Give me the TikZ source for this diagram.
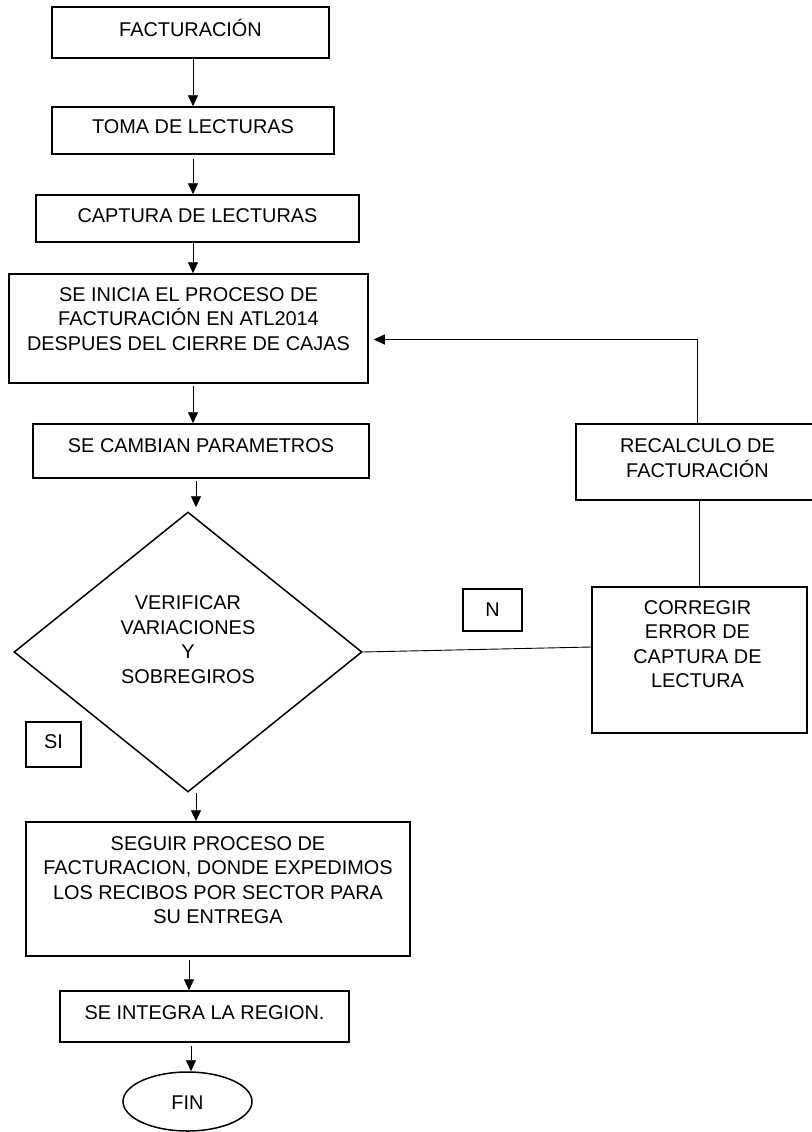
\documentclass[tikz,border=0pt]{standalone}
\usepackage{fontspec}
\setmainfont{Liberation Sans}
\usetikzlibrary{shapes.geometric,arrows.meta,calc}
\tikzset{
  box/.style={draw=black,line width=1.5pt,rectangle,inner sep=0pt,fill=white},
  diam/.style={draw=black,line width=1.5pt,diamond,inner sep=0pt,fill=white},
  oval/.style={draw=black,line width=1.5pt,ellipse,inner sep=0pt,fill=white},
  txt/.style={font=\fontsize{19.9pt}{24.5pt}\selectfont,align=center,inner sep=0pt},
  conn/.style={draw=black,line width=0.9pt},
  arr/.style={conn,-{Triangle[length=11pt,width=10pt]}}
}
\begin{document}
\begin{tikzpicture}[x=1pt,y=-1pt]
\useasboundingbox (0,0) rectangle (811,1132);
\fill[white] (0,0) rectangle (811,1132);
\coordinate (colx) at (193,0);
\coordinate (colb) at (196,0);
\coordinate (colc) at (189,0);
\coordinate (cold) at (191,0);

\node[box,minimum width=277pt,minimum height=51pt,
  label={[txt,yshift=5pt]center:{FACTURACIÓN}}] (b1) at (190.5,32.5) {};
\node[box,minimum width=282pt,minimum height=47pt,
  label={[txt,yshift=3.8pt]center:{TOMA DE LECTURAS}}] (b2) at (193,130.5) {};
\node[box,minimum width=323pt,minimum height=47pt,
  label={[txt,yshift=3.2pt]center:{CAPTURA DE LECTURAS}}] (b3) at (197.5,218.5) {};
\node[box,minimum width=359pt,minimum height=109pt,
  label={[txt,yshift=9.5pt]center:{SE INICIA EL PROCESO DE\\FACTURACIÓN EN ATL2014\\DESPUES DEL CIERRE DE CAJAS}}] (b4) at (188.5,328.5) {};
\node[box,minimum width=336pt,minimum height=54pt,
  label={[txt,yshift=5.7pt]center:{SE CAMBIAN PARAMETROS}}] (b5) at (201,451) {};
\node[diam,minimum width=348pt,minimum height=280pt,
  label={[txt,yshift=12.5pt]center:{VERIFICAR\\VARIACIONES\\Y\\SOBREGIROS}}] (d) at (188,652) {};
\node[box,minimum width=384pt,minimum height=134pt,
  label={[txt,yshift=9pt]center:{SEGUIR PROCESO DE\\FACTURACION, DONDE EXPEDIMOS\\LOS RECIBOS POR SECTOR PARA\\SU ENTREGA}}] (b6) at (218,889) {};
\node[box,minimum width=289pt,minimum height=51pt,
  label={[txt,yshift=3.7pt]center:{SE INTEGRA LA REGION.}}] (b7) at (204.5,1016.5) {};
\node[oval,minimum width=129pt,minimum height=59pt,
  label={[txt,yshift=-1pt]center:{FIN}}] (fin) at (187.5,1101.5) {};

\node[box,minimum width=244pt,minimum height=76pt,
  label={[txt,yshift=4pt,xshift=-0.5pt]center:{RECALCULO DE\\FACTURACIÓN}}] (rec) at (698,462) {};
\node[box,minimum width=215pt,minimum height=146pt,
  label={[txt,yshift=16pt,xshift=-2pt]center:{CORREGIR\\ERROR DE\\CAPTURA DE\\LECTURA}}] (cor) at (699.5,660) {};
\node[box,minimum width=59pt,minimum height=42pt,
  label={[txt]center:{N}}] (nb) at (492.5,610) {};
\node[box,minimum width=55pt,minimum height=45pt,
  label={[txt,yshift=2.5pt]center:{SI}}] (sib) at (53.5,744.5) {};

% main flow
\draw[arr] (b1.south -| colx) -- (b2.north -| colx);
\draw[arr] ([yshift=-4pt]b2.south -| colx) -- (b3.north -| colx);
\draw[arr] (b3.south -| colx) -- (b4.north -| colx);
\draw[arr] ([yshift=-2pt]b4.south -| colx) -- (b5.north -| colx);
\draw[arr] ([yshift=-2pt]b5.south -| colb) -- ([yshift=4pt]d.north -| colb);
\draw[arr] (d.south -| colb) -- (b6.north -| colb);
\draw[arr] ([yshift=-3pt]b6.south -| colc) -- (b7.north -| colc);
\draw[arr] ([yshift=-3pt]b7.south -| cold) -- (fin.north -| cold);

% loop back
\draw[conn] (d.east) -- ([yshift=13pt]cor.west);
\draw[conn] (cor.north) -- (cor.north |- rec.south);
\draw[arr] ([xshift=-1pt]rec.north) |- ([xshift=5pt,yshift=-11pt]b4.east);
\end{tikzpicture}
\end{document}
